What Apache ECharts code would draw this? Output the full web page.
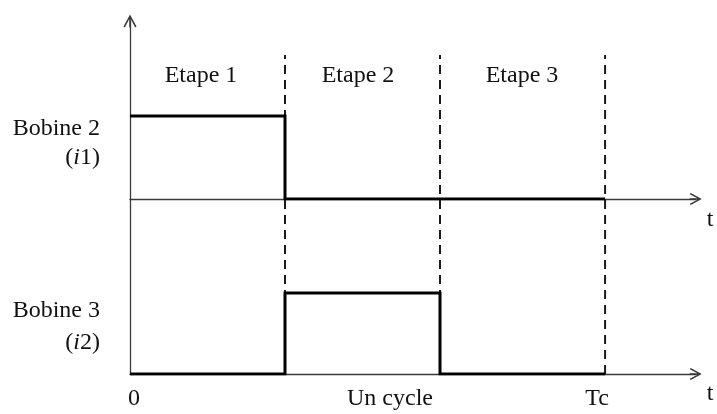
<!DOCTYPE html>
<html>
<head>
<meta charset="utf-8">
<script src="https://cdn.jsdelivr.net/npm/echarts@6/dist/echarts.min.js"></script>
<style>
  html, body { margin: 0; padding: 0; background: #fff; }
  #chart { width: 717px; height: 414px; }
</style>
</head>
<body>
<div id="chart"></div>
<script>
// time boundaries of the three steps (one step ~ 1 unit, Tc = end of cycle)
var edges = [0, 1, 2, 3.065];
var tMax = 3.65;
// coil current level during each step (1 = on, 0 = off)
var bobine2 = [1, 0, 0];
var bobine3 = [0, 1, 0];
var stepNames = ["Etape 1", "Etape 2", "Etape 3"];
var timeLabels = ["0", "Un cycle", "Tc"];

var FONT = "'Liberation Serif', 'Times New Roman', serif";
var FS = 24;
var INK = "#111";
var AXIS = "#3a3a3a";

// open chevron + shaft, pointing up (ECharts rotates it along the axis)
var chevron = "path://M6,0 L12,11 L10.8,12 L6,3 L1.2,12 L0,11 Z M5.3,2 L6.7,2 L6.7,12 L5.3,12 Z";

function stepPoints(levels) {
  return edges.map(function (t, k) {
    return [t, levels[Math.min(k, levels.length - 1)]];
  });
}

function xAxisFor(idx, arrow) {
  return {
    gridIndex: idx, type: "value", min: 0, max: tMax,
    axisLine: arrow ? {
      show: true, symbol: ["none", chevron], symbolSize: [12, 13],
      lineStyle: { color: AXIS, width: 1.3 }
    } : { show: false },
    axisTick: { show: false }, axisLabel: { show: false }, splitLine: { show: false }
  };
}

function yAxisFor(idx, max, arrow, show) {
  return {
    gridIndex: idx, type: "value", min: 0, max: max,
    axisLine: show ? {
      show: true, symbol: ["none", arrow ? chevron : "none"], symbolSize: [14, 13],
      lineStyle: { color: AXIS, width: 1.3 }
    } : { show: false },
    axisTick: { show: false }, axisLabel: { show: false }, splitLine: { show: false }
  };
}

function signal(idx, levels) {
  return {
    type: "line", xAxisIndex: idx, yAxisIndex: idx, step: "end",
    data: stepPoints(levels), symbol: "none", silent: true, z: 5,
    lineStyle: { color: "#000", width: 3, join: "miter" }
  };
}

var dashed = edges.slice(1).map(function (e) {
  return {
    type: "line", xAxisIndex: 2, yAxisIndex: 2, data: [[e, 0], [e, 1]],
    symbol: "none", silent: true, z: 3,
    lineStyle: { color: "#1a1a1a", width: 2, type: [9, 6] }
  };
});

function txt(text, x, y, align, rich) {
  return {
    type: "text", x: x, y: y, silent: true, z: 10,
    style: {
      text: text, fill: INK, font: FS + "px " + FONT,
      align: align || "center", verticalAlign: "middle", rich: rich
    }
  };
}
var italic = { i: { fontStyle: "italic", fontSize: FS, fontFamily: FONT, fill: INK } };

var grids = [
  { left: 130, width: 155 * tMax, top: 21, height: 178 },
  { left: 130, width: 155 * tMax, top: 199, height: 175 },
  { left: 130, width: 155 * tMax, top: 55, height: 319 }
];

var chart = echarts.init(document.getElementById("chart"), null, { renderer: "canvas" });
chart.setOption({
  animation: false,
  grid: grids,
  xAxis: [xAxisFor(0, true), xAxisFor(1, true), xAxisFor(2, false)],
  yAxis: [yAxisFor(0, 178 / 83, true, true), yAxisFor(1, 175 / 81, false, true),
          yAxisFor(2, 1, false, false)],
  series: [signal(0, bobine2), signal(1, bobine3)].concat(dashed),
  graphic: [
    txt(stepNames[0], 201, 76),
    txt(stepNames[1], 358, 76),
    txt(stepNames[2], 522, 76),
    txt("Bobine 2", 100, 129, "right"),
    txt("({i|i}1)", 100, 158, "right", italic),
    txt("Bobine 3", 100, 311, "right"),
    txt("({i|i}2)", 100, 343, "right", italic),
    txt(timeLabels[0], 134, 399),
    txt(timeLabels[1], 390, 399),
    txt(timeLabels[2], 597, 399),
    txt("t", 710, 220),
    txt("t", 710, 394)
  ]
});
</script>
</body>
</html>
